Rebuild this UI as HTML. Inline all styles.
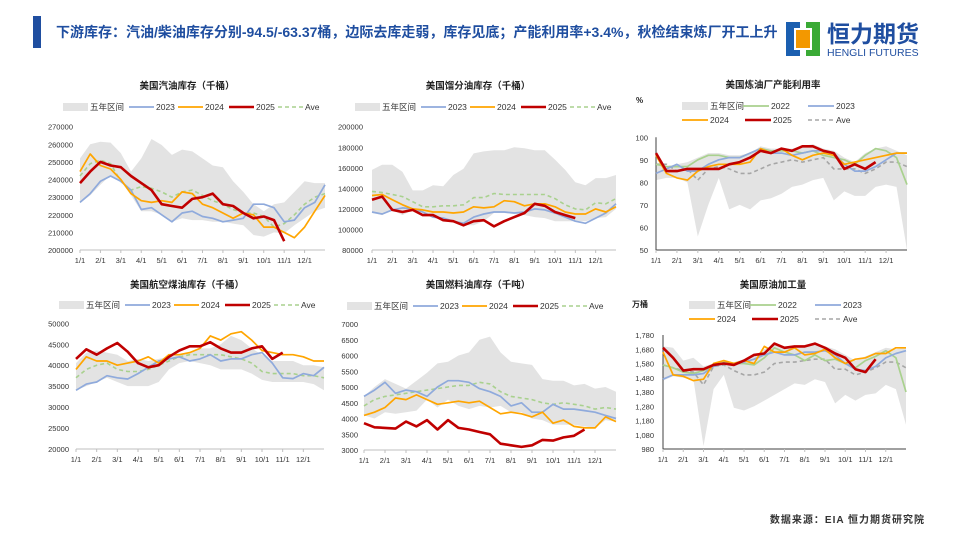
<!DOCTYPE html>
<html><head><meta charset="utf-8">
<style>
body{margin:0;background:#fff;}
#root{position:relative;width:960px;height:540px;overflow:hidden;font-family:"Liberation Sans","Noto Sans CJK SC",sans-serif;}
svg text{font-family:"Liberation Sans","Noto Sans CJK SC",sans-serif;}
</style></head>
<body>
<div id="root">
<svg id="main" width="960" height="540" viewBox="0 0 960 540">
  <rect x="33" y="16" width="8" height="32" fill="#1F4EA0"/>
  <text x="56" y="37" font-size="14" font-weight="bold" fill="#1F4EA0">下游库存：汽油/柴油库存分别-94.5/-63.37桶，边际去库走弱，库存见底；产能利用率+3.4%，秋检结束炼厂开工上升</text>
  <g>
    <rect x="786" y="22" width="8" height="34" fill="#1B5FB0"/>
    <rect x="786" y="22" width="14" height="6" fill="#1B5FB0"/>
    <rect x="786" y="50" width="14" height="6" fill="#1B5FB0"/>
    <rect x="812" y="22" width="8" height="34" fill="#3AAA35"/>
    <rect x="806" y="22" width="14" height="6" fill="#3AAA35"/>
    <rect x="806" y="50" width="14" height="6" fill="#3AAA35"/>
    <rect x="796" y="30" width="14" height="18" fill="#F39800"/>
    <text x="827" y="42" font-size="23" font-weight="bold" fill="#1F4EA0">恒力期货</text>
    <text x="827" y="56" font-size="10.5" fill="#1F4EA0">HENGLI FUTURES</text>
  </g>
  <text x="925" y="523" font-size="10" font-weight="bold" fill="#333" text-anchor="end" letter-spacing="1">数据来源：EIA 恒力期货研究院</text>
  <g id="charts"></g>
</svg>
</div>
<script>
const monthLabels = ["1/1","2/1","3/1","4/1","5/1","6/1","7/1","8/1","9/1","10/1","11/1","12/1"];
// Gasoline (thousand bbl, /1000)
const gasBandHi = [252,260,261.5,261,255,244.5,252,263,259.6,254,257,256,252,248,247,239,233,226,222,226,227,233,239,238,238];
const gasBandLo = [226.5,231,237,242.5,239,231,222,222,220,216,218,217,217,216,216,215,214,208.5,207.6,210,209.5,214,218,222,224];
const gas2023 = [227,232,239,242,239,234,223,224,220,216,221,222,219,218,216,217,218,226,226,224,216,217,224,227,237];
const gas2024 = [244.5,254.5,248,246,240,232,228,227,228,227,233,232,226,224,221,218,221,220,213,213,210,207,213,222,231];
const gas2025 = [238,244.5,250,248,247,242,238,234,226,225,224,229,230,232,226,225,221,218,219,217,205];
const gasAve = [242,249,251,249,239,234,236,235,233,230,233,234,231,228,226,223,221,221,219,213,215,220,226,230,232];
// Distillate
const disBandHi = [158,163,163,156,138,138,143,142,153,159,174,176,177,177,180,179,177,177,168,158,146,143,150,150,153];
const disBandLo = [116,114,119,114,119,117,114,109,108,104,104,108,116,116,115,114,112,111,108,108,108,108,111,112,120];
const dis2023 = [117,115,119,121,120,117,112,111,108,106,112,115,117,117,116,117,120,119,116,112,108,106,111,116,125];
const dis2024 = [133,134,129,124,120,119,117,117,116,117,122,121,122,128,127,123,125,125,122,117,115,115,120,117,122];
const dis2025 = [129,132,119,117,119,114,114,109,108,104,108,109,103,108,112,116,125,123,117,114,111];
const disAve = [137,136,134,132,127,122,122,123,123,124,131,131,135,134,134,134,134,134,130,124,120,119,126,125,130];
// Refinery utilization
const utlBandHi = [89,87,88,89,91,93,93,92,92,93,96,95,95,95,96,97,95,94,91,89,93,95,96,94,92];
const utlBandLo = [81,82,82,80,56,70,82,68,70,68,72,73,75,78,79,81,82,72,76,74,74,78,79,78,50];
const utl2022 = [88,87,87,87,90,92,92,91,91,93,95,94,94,94,93,94,92,91,90,88,92,95,94,91,79];
const utl2023 = [84,86,88,85,85,88,90,91,91,93,95,93,93,92,93,94,94,93,88,85,85,87,90,93,93];
const utl2024 = [92,84,82,81,85,87,88,88,88,89,95,93,95,92,90,92,93,92,88,89,90,91,92,93,93];
const utl2025 = [93,85,85,86,86,86,86,88,89,91,94,93,95,94,96,96,94,93,86,88,86,89];
const utlAve = [88,88,85,86,81,86,87,86,84,84,86,88,89,90,89,90,91,86,86,86,84,86,89,89,87];
// Jet fuel
const jetBandHi = [40.5,43,43.5,43,42.5,41,41.5,41,41.5,42,42.5,43,44,44,45,47,46,44,42.5,41,41,41,40,40,39.5];
const jetBandLo = [34,35,36,37,36,35,35,35,36,39,40.5,41,40.5,40,39,39,39,38,36.5,36,36,36,36,35.5,34];
const jet2023 = [34,35.5,36,37.5,37,36.7,38,39.5,41,41.5,42,41,41.5,42.5,41,41.5,41.5,42.5,43,40.5,37,36.8,38,37.5,39.5];
const jet2024 = [39,42,41,41,40,40.5,41,42,40.5,42.5,42.5,43,44,47,46,47.5,48,46,43.5,43,42.5,42.5,42,41,41];
const jet2025 = [41.5,43.8,42.5,44,45.3,43.2,40.5,39.5,40,42,43.5,44.5,44.5,45.5,44,43,43,44,44.5,41.5,43];
const jetAve = [37,39,40,40.5,39,38.5,38.5,39,40,41,42,42.5,42.5,42.5,42.5,42,41.5,40.5,38.5,38,38,38,37.5,37.5,37];
// Residual fuel
const resBandHi = [4.7,5.0,5.25,5.1,4.95,5.2,5.45,5.75,5.8,6.0,6.1,6.5,6.6,6.1,5.8,5.75,5.7,5.25,5.2,5.2,5.05,5.1,4.95,5.0,4.85];
const resBandLo = [4.1,4.0,4.2,4.15,4.2,4.25,4.6,4.35,4.6,4.4,4.3,4.4,4.35,4.4,4.2,4.2,4.0,3.95,3.8,3.8,3.8,3.75,3.7,3.95,3.9];
const res2023 = [4.7,4.9,5.15,4.8,4.9,4.85,4.7,5.0,5.2,5.2,5.15,4.95,4.85,4.7,4.4,4.5,4.2,4.2,4.45,4.3,4.3,4.25,4.2,4.1,4.0];
const res2024 = [4.1,4.2,4.35,4.65,4.6,4.75,4.6,4.45,4.5,4.55,4.5,4.55,4.35,4.15,4.2,4.15,4.05,4.2,3.85,3.95,3.75,3.7,3.7,4.05,3.9];
const res2025 = [3.85,3.72,3.7,3.68,3.9,3.75,3.95,3.65,3.95,3.7,3.65,3.57,3.5,3.2,3.15,3.1,3.15,3.32,3.3,3.4,3.45,3.65];
const resAve = [4.4,4.6,4.7,4.75,4.8,4.85,4.9,4.95,5.0,5.05,5.05,5.15,5.1,4.85,4.7,4.65,4.6,4.5,4.45,4.5,4.45,4.4,4.3,4.35,4.3];
// Crude runs
const runBandHi = [1700,1690,1600,1620,1560,1580,1590,1590,1610,1630,1680,1710,1690,1690,1700,1720,1700,1680,1640,1600,1630,1660,1690,1680,1690];
const runBandLo = [1460,1490,1480,1470,1000,1400,1500,1270,1250,1280,1320,1360,1400,1440,1430,1470,1450,1300,1360,1320,1360,1370,1430,1400,1150];
const run2022 = [1570,1550,1520,1510,1530,1560,1590,1580,1580,1570,1620,1690,1660,1640,1600,1640,1600,1610,1580,1550,1600,1630,1670,1620,1380];
const run2023 = [1470,1500,1500,1500,1510,1560,1580,1580,1590,1610,1640,1660,1640,1640,1660,1660,1670,1640,1580,1540,1530,1560,1620,1650,1670];
const run2024 = [1660,1500,1490,1460,1470,1580,1600,1580,1600,1580,1700,1660,1660,1690,1640,1650,1680,1620,1580,1610,1620,1650,1650,1690,1690];
const run2025 = [1690,1620,1530,1540,1540,1570,1580,1570,1600,1640,1650,1720,1690,1700,1700,1720,1690,1650,1620,1540,1520,1610];
const runAve = [1570,1550,1530,1520,1430,1560,1570,1530,1500,1500,1520,1580,1590,1590,1600,1610,1610,1540,1540,1500,1520,1550,1590,1590,1550];

const gasTicks = ["200000","210000","220000","230000","240000","250000","260000","270000"];
const disTicks = ["80000","100000","120000","140000","160000","180000","200000"];
const utlTicks = ["50","60","70","80","90","100"];
const jetTicks = ["20000","25000","30000","35000","40000","45000","50000"];
const resTicks = ["3000","3500","4000","4500","5000","5500","6000","6500","7000"];
const runTicks = ["980","1,080","1,180","1,280","1,380","1,480","1,580","1,680","1,780"];

const C = {band:"#E3E3E3",y22:"#A9D18E",y23:"#8FAADC",y24:"#FFA500",y25:"#C00000",aveG:"#A9D18E",aveK:"#A6A6A6"};
const NS="http://www.w3.org/2000/svg";
const host=document.getElementById('charts');
function mk(tag,attrs,parent){const e=document.createElementNS(NS,tag);for(const k in attrs)e.setAttribute(k,attrs[k]);(parent||host).appendChild(e);return e;}

const charts=[
 {id:'gasoline',title:'美国汽油库存（千桶）',tx:187,ty:89,x0:80,x1:325,yTop:126.7,yBot:250,vMin:200,vMax:270,ticks:gasTicks,lx:73,legendY:107,two:false,
  band:[gasBandHi,gasBandLo],series:[['2023',gas2023,C.y23],['2024',gas2024,C.y24],['2025',gas2025,C.y25]],ave:gasAve,aveC:C.aveG,yAxis:false},
 {id:'distillate',title:'美国馏分油库存（千桶）',tx:478,ty:89,x0:372,x1:616,yTop:126.7,yBot:250,vMin:80,vMax:200,ticks:disTicks,lx:363,legendY:107,two:false,
  band:[disBandHi,disBandLo],series:[['2023',dis2023,C.y23],['2024',dis2024,C.y24],['2025',dis2025,C.y25]],ave:disAve,aveC:C.aveG,yAxis:false},
 {id:'utilization',title:'美国炼油厂产能利用率',tx:773,ty:88,x0:656,x1:907,yTop:137.3,yBot:250,vMin:50,vMax:100,ticks:utlTicks,lx:648,legendY:106,two:true,unit:'%',ux:636,uy:103,
  band:[utlBandHi,utlBandLo],series:[['2022',utl2022,C.y22],['2023',utl2023,C.y23],['2024',utl2024,C.y24],['2025',utl2025,C.y25]],ave:utlAve,aveC:C.aveK,yAxis:true},
 {id:'jet-fuel',title:'美国航空煤油库存（千桶）',tx:187,ty:288,x0:76,x1:324,yTop:323.3,yBot:449,vMin:20,vMax:50,ticks:jetTicks,lx:69,legendY:305,two:false,
  band:[jetBandHi,jetBandLo],series:[['2023',jet2023,C.y23],['2024',jet2024,C.y24],['2025',jet2025,C.y25]],ave:jetAve,aveC:C.aveG,yAxis:false},
 {id:'residual-fuel',title:'美国燃料油库存（千吨）',tx:478,ty:288,x0:364,x1:616,yTop:324,yBot:450,vMin:3,vMax:7,ticks:resTicks,lx:358,legendY:306,two:false,
  band:[resBandHi,resBandLo],series:[['2023',res2023,C.y23],['2024',res2024,C.y24],['2025',res2025,C.y25]],ave:resAve,aveC:C.aveG,yAxis:false},
 {id:'crude-runs',title:'美国原油加工量',tx:773,ty:288,x0:663,x1:906,yTop:335,yBot:449,vMin:980,vMax:1780,ticks:runTicks,lx:654,legendY:305,two:true,unit:'万桶',ux:632,uy:307,
  band:[runBandHi,runBandLo],series:[['2022',run2022,C.y22],['2023',run2023,C.y23],['2024',run2024,C.y24],['2025',run2025,C.y25]],ave:runAve,aveC:C.aveK,yAxis:true}
];

charts.forEach(c=>{
  const g=mk('g',{});
  
  
  const xs=i=>c.x0+(c.x1-c.x0)*i/24;
  const ys=v=>c.yBot-(v-c.vMin)/(c.vMax-c.vMin)*(c.yBot-c.yTop);
  const t=mk('text',{x:c.tx,y:c.ty,'font-size':9.5,'font-weight':'bold','text-anchor':'middle',fill:'#222'},g);
  t.textContent=c.title;
  
  
  if(c.unit){const u=mk('text',{x:c.ux,y:c.uy,'font-size':8,'font-weight':'bold',fill:'#222'},g);u.textContent=c.unit;
    }
  let d='';c.band[0].forEach((v,i)=>{d+=(i?'L':'M')+xs(i).toFixed(1)+','+ys(v).toFixed(1);});
  for(let i=c.band[1].length-1;i>=0;i--)d+='L'+xs(i).toFixed(1)+','+ys(c.band[1][i]).toFixed(1);
  const b=mk('path',{d:d+'Z',fill:C.band},g);
  
  
  c.ticks.forEach((lab,i)=>{
    const v=c.vMin+(c.vMax-c.vMin)*i/(c.ticks.length-1);
    const tt=mk('text',{x:c.lx,y:ys(v)+3,'font-size':7.5,'text-anchor':'end',fill:'#333'},g);
    tt.textContent=lab;
    
    
  });
  const xa=mk('line',{x1:c.x0,x2:c.x1,y1:c.yBot,y2:c.yBot,stroke:c.yAxis?'#404040':'#BFBFBF','stroke-width':1},g);
  
  
  if(c.yAxis){const ya=mk('line',{x1:c.x0,x2:c.x0,y1:c.yTop,y2:c.yBot,stroke:'#404040','stroke-width':1},g);
    }
  monthLabels.forEach((m,i)=>{
    const x=xs(i*2);
    mk('line',{x1:x,x2:x,y1:c.yBot,y2:c.yBot+3,stroke:'#BFBFBF'},g);
    const tt=mk('text',{x:x,y:c.yBot+13,'font-size':7.5,'text-anchor':'middle',fill:'#333'},g);
    tt.textContent=m;
    
    
  });
  const line=(arr,col,w,dash,name)=>{
    const pts=arr.map((v,i)=>xs(i).toFixed(1)+','+ys(v).toFixed(1)).join(' ');
    const p=mk('polyline',{points:pts,fill:'none',stroke:col,'stroke-width':w,'stroke-linejoin':'round'},g);
    if(dash)p.setAttribute('stroke-dasharray',dash);
    
    
  };
  line(c.ave,c.aveC,1.6,'4,3',c.id+'-ave-line');
  c.series.forEach(s=>line(s[1],s[2],s[0]==='2025'?2.6:1.7,null,c.id+'-line-'+s[0]));
  const entries=[['五年区间','band'],...c.series.map(s=>[s[0],s[2]]),['Ave','ave']];
  let pos;
  if(!c.two){
    const base=c.x0-17;
    pos=[[base,c.legendY],[base+66,c.legendY],[base+115,c.legendY],[base+166,c.legendY],[base+215,c.legendY]];
  }else{
    const base=c.x0+26;
    pos=[[base,c.legendY],[base+61,c.legendY],[base+126,c.legendY],[base,c.legendY+14],[base+63,c.legendY+14],[base+126,c.legendY+14]];
  }
  entries.forEach((e,i)=>{
    const [lx,ly]=pos[i];
    const lg=mk('g',{},g);
    
    
    let sw=c.two?26:25;
    if(e[1]==='band'){mk('rect',{x:lx,y:ly-4,width:sw,height:8,fill:C.band},lg);}
    else if(e[1]==='ave'){mk('line',{x1:lx,x2:lx+sw,y1:ly,y2:ly,stroke:c.aveC,'stroke-width':1.6,'stroke-dasharray':'4,3'},lg);}
    else mk('line',{x1:lx,x2:lx+sw,y1:ly,y2:ly,stroke:e[1],'stroke-width':e[0]==='2025'?2.6:1.7},lg);
    const tt=mk('text',{x:lx+sw+2,y:ly+3,'font-size':8.5,fill:'#333'},lg);
    tt.textContent=e[0];
  });
});
</script>
</body></html>
